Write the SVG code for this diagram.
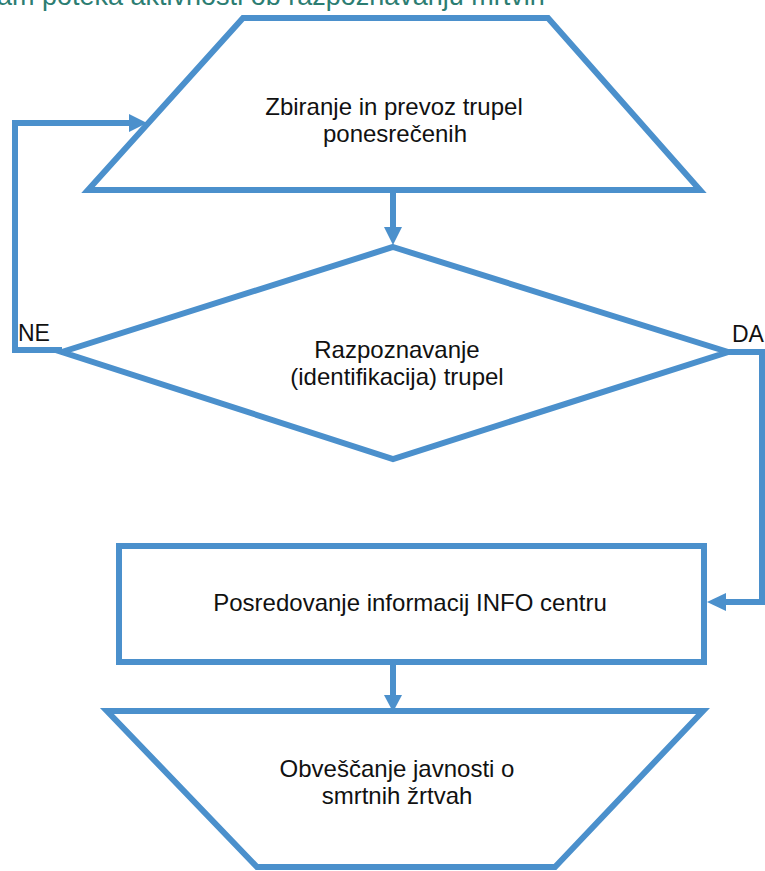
<svg xmlns="http://www.w3.org/2000/svg" width="765" height="871" viewBox="0 0 765 871">
  <style>
    .shape { fill: #ffffff; stroke: #4b90cc; stroke-width: 6; stroke-linejoin: miter; }
    .conn { fill: none; stroke: #4b90cc; stroke-width: 6; stroke-linejoin: miter; }
    .head { fill: #4b90cc; stroke: none; }
    .lbl { font-family: "Liberation Sans", Arial, sans-serif; font-size: 24px; fill: #111111; text-anchor: middle; }
    .yn { font-family: "Liberation Sans", Arial, sans-serif; font-size: 23px; fill: #111111; }
    .title { font-family: "Liberation Sans", Arial, sans-serif; font-size: 27px; fill: #2c7d72; }
  </style>
  <rect x="0" y="0" width="765" height="871" fill="#ffffff"/>
  <text class="title" x="-3" y="5">am poteka aktivnosti ob razpoznavanju mrtvih</text>

  <g id="connectors">
    <line class="conn" x1="393" y1="190" x2="393" y2="229"/>
    <polygon class="head" points="384,227 402,227 393,245"/>
    <polyline class="conn" points="62,350 15,350 15,123 131,123"/>
    <polygon class="head" points="129,114 129,132 147,123"/>
    <polyline class="conn" points="728,352 762,352 762,602 724,602"/>
    <polygon class="head" points="726,593 726,611 707,602"/>
    <line class="conn" x1="393" y1="662" x2="393" y2="697"/>
    <polygon class="head" points="384,695 402,695 393,712"/>
  </g>

  <g id="node-zbiranje">
    <polygon class="shape" points="243,18 548,18 700,190 88,190"/>
    <text class="lbl" x="394" y="115">Zbiranje in prevoz trupel</text>
    <text class="lbl" x="395" y="142">ponesrečenih</text>
  </g>

  <g id="node-razpoznavanje">
    <polygon class="shape" points="393,247 728,352 393,459 62,352"/>
    <text class="lbl" x="397" y="358">Razpoznavanje</text>
    <text class="lbl" x="397" y="385">(identifikacija) trupel</text>
  </g>

  <g id="label-ne">
    <text class="yn" x="18" y="341">NE</text>
  </g>
  <g id="label-da">
    <text class="yn" x="732" y="342">DA</text>
  </g>

  <g id="node-posredovanje">
    <rect class="shape" x="119" y="546" width="585" height="116"/>
    <text class="lbl" x="410" y="611">Posredovanje informacij INFO centru</text>
  </g>

  <g id="node-obvescanje">
    <polygon class="shape" points="107,711 703,711 555,867 257,867"/>
    <text class="lbl" x="397" y="777">Obveščanje javnosti o</text>
    <text class="lbl" x="397" y="804">smrtnih žrtvah</text>
  </g>
</svg>
